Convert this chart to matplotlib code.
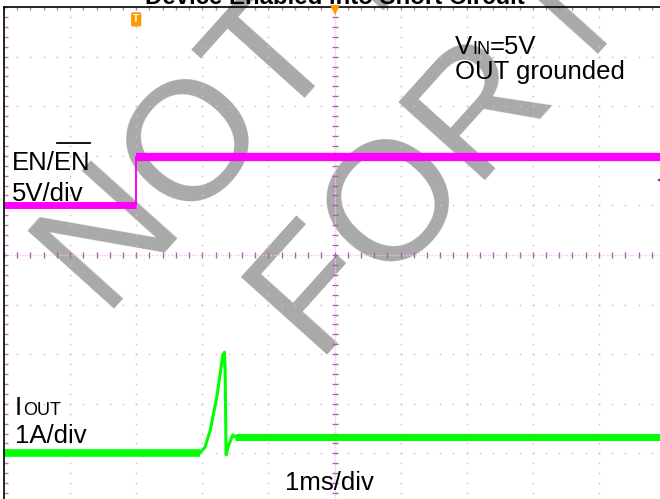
import numpy as np
import matplotlib
matplotlib.use('Agg')
import matplotlib.pyplot as plt
from matplotlib.transforms import IdentityTransform

plt.rcParams['font.family'] = ['Liberation Sans', 'DejaVu Sans']

W, H = 660, 499

# scope screen, 10 x 10 divisions, 1 ms/div
en_t = [0.0, 2.0, 2.0, 10.1]           # EN/EN trace (div)
en_v = [1.0, 1.0, 1.98, 1.98]

iout_t = [0.0, 2.96, 3.04, 3.12, 3.22, 3.31, 3.335, 3.345, 3.36, 3.39, 3.46, 3.49, 10.1]
iout_v = [-3.99, -3.99, -3.88, -3.53, -2.86, -2.02, -1.96, -2.3, -4.03, -3.87, -3.63, -3.66, -3.66]

wm_lines = ['NOT RECOMMENDED', 'FOR NEW DESIGNS']

fig = plt.figure(figsize=(W / 100, H / 100), dpi=100)
ax = fig.add_axes([4 / W, (H - 503) / H, 661 / W, 496 / H])
ax.set_xlim(0, 10)
ax.set_ylim(-5, 5)
ax.set_xticks([])
ax.set_yticks([])
ax.patch.set_facecolor('none')
for s in ['right', 'bottom']:
    ax.spines[s].set_visible(False)
for s in ['left', 'top']:
    ax.spines[s].set_linewidth(1.2)
    ax.spines[s].set_zorder(6)

def px(x, y):
    return x, H - y

# watermark (drawn in pixels)
wm_kw = dict(fontsize=122, color='#a9a9a9', rotation=48, rotation_mode='anchor',
             ha='left', va='baseline', transform=IdentityTransform(), zorder=0)
ax.text(*px(106, 319), wm_lines[0], **wm_kw)
ax.text(*px(319, 365), wm_lines[1], **wm_kw)

# dotted graticule
minor = np.arange(0, 10.001, 0.2)
dot = dict(ls='none', marker='s', ms=1.1, mew=0, color='#e6ade6', zorder=2)
for g in range(1, 10):
    if g == 5:
        continue
    ax.plot(np.full_like(minor, g), minor - 5, **dot)
    ax.plot(minor, np.full_like(minor, g - 5.0), **dot)

# centre axes with ticks
fine = np.arange(0, 10.001, 0.04)
ax.plot(np.full_like(fine, 5), fine - 5, ls='none', marker='s', ms=0.9, mew=0, color='#ecc4ec', zorder=2)
ax.plot(fine, np.zeros_like(fine), ls='none', marker='s', ms=0.9, mew=0, color='#ecc4ec', zorder=2)
ax.plot(np.full_like(minor, 5), minor - 5, ls='none', marker='_', ms=4, mew=1.0, color='#b060b0', zorder=2)
ax.plot(minor, np.zeros_like(minor), ls='none', marker='|', ms=4, mew=1.0, color='#b060b0', zorder=2)
# edge ticks
ax.plot(np.full_like(minor, 0.03), minor - 5, ls='none', marker='_', ms=3, mew=1.0, color='#c070c0', zorder=2)
ax.plot(minor, np.full_like(minor, 4.97), ls='none', marker='|', ms=3, mew=1.0, color='#c070c0', zorder=2)

# traces
mag = '#ff00ff'
grn = '#00ff00'
ax.plot(en_t[1:3], en_v[1:3], color=mag, lw=1.4, zorder=4)
ax.plot(en_t[:2], en_v[:2], color=mag, lw=5.0, solid_capstyle='butt', zorder=4)
ax.plot(en_t[2:], en_v[2:], color=mag, lw=6.0, solid_capstyle='butt', zorder=4)

ax.plot(iout_t[1:-1], iout_v[1:-1], color=grn, lw=2.2, zorder=4)
ax.plot(iout_t[:2], iout_v[:2], color=grn, lw=5.5, solid_capstyle='butt', zorder=4)
ax.plot(iout_t[-2:], iout_v[-2:], color=grn, lw=5.0, solid_capstyle='butt', zorder=4)

# markers
ax.plot([5], [4.93], marker='v', ms=7, color='#ff9900', mew=0, zorder=7, clip_on=False)
ax.plot([9.92], [1.51], marker='<', ms=5, color='#a000a0', mew=0, zorder=7, clip_on=False)
ax.text(2.0, 4.75, 'T', color='white', fontsize=7, fontweight='bold', ha='center', va='center',
        zorder=7, bbox=dict(boxstyle='round,pad=0.15', fc='#ff9900', ec='#ff9900'))

# labels
tkw = dict(transform=IdentityTransform(), va='baseline', color='black', zorder=8)
fs = 18.5
ax.text(*px(12, 170), 'EN/EN', fontsize=fs, **tkw)
ax.plot([(57 - 4) / 66.1, (90 - 4) / 66.1], [(255 - 143) / 49.6] * 2, color='black', lw=1.3, zorder=8)
ax.text(*px(12, 201), '5V/div', fontsize=fs, **tkw)

ax.text(*px(455, 54), 'V', fontsize=fs, **tkw)
ax.text(*px(472, 54), 'IN', fontsize=13, **tkw)
ax.text(*px(490, 54), '=5V', fontsize=fs, **tkw)
ax.text(*px(455, 79), 'OUT grounded', fontsize=fs, **tkw)

ax.text(*px(15, 415), 'I', fontsize=fs, **tkw)
ax.text(*px(23, 415), 'OUT', fontsize=13, **tkw)
ax.text(*px(15, 443), '1A/div', fontsize=fs, **tkw)

ax.text(*px(285, 490), '1ms/div', fontsize=fs, **tkw)

ax.text(*px(335, 4), 'Device Enabled into Short Circuit', fontsize=17.3, fontweight='bold',
        ha='center', transform=IdentityTransform(), va='baseline', zorder=8)

fig.savefig('out.png', dpi=100)
